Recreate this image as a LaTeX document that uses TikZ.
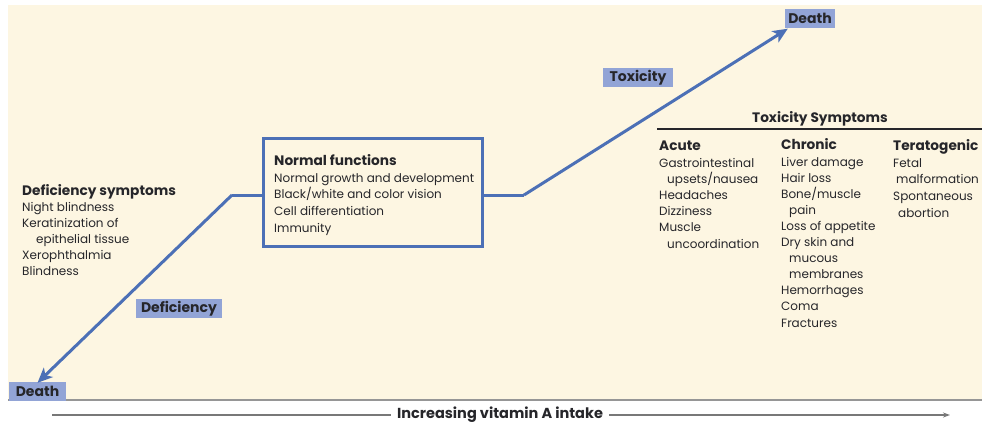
\documentclass[tikz,border=0pt]{standalone}
\usepackage{fontspec}
\setmainfont{Poppins}
\usetikzlibrary{arrows.meta}

\definecolor{cream}{RGB}{253,246,226}
\definecolor{lineblue}{RGB}{76,112,182}
\definecolor{tagblue}{RGB}{146,164,214}
\definecolor{ink}{RGB}{38,38,42}
\definecolor{rulegray}{RGB}{150,150,150}

% bold heading inside a text block
\newcommand{\blockhead}[1]{{\fontsize{13.7}{16}\selectfont\bfseries #1}}

\begin{document}
\begin{tikzpicture}[x=1pt,y=-1pt,
  every node/.style={text=ink},
  body/.style={font=\fontsize{12}{16.2}\selectfont},
  % anchored at the baseline of the block's last line
  block/.style={body, align=left, anchor=base west, inner sep=0pt},
  tag/.style={fill=tagblue, font=\fontsize{14}{15}\selectfont\bfseries,
    inner sep=0pt, minimum height=19pt},
  curve/.style={draw=lineblue, line width=3pt},
  tip/.style={-{Stealth[length=15pt,width=13pt,inset=4pt]}},
  axisline/.style={draw=rulegray!80!black, line width=1.2pt}
]
\useasboundingbox (0,0) rectangle (982,424);

% background panel
\fill[cream] (8,5) rectangle (982,400);
\draw[rulegray, line width=1.5pt] (8,400) -- (982,400);

% labels on the curve
\node[tag, minimum width=57pt] (deathL) at (37.5,391.5) {Death};
\node[tag, minimum width=50pt] (deathR) at (810,18) {Death};
\node[tag, minimum width=70pt] (toxtag) at (638,77.5) {Toxicity};
\node[tag, minimum width=86pt] (deftag) at (179,308.5) {Deficiency};

% normal range box
\node[draw=lineblue, line width=3pt, minimum width=219pt, minimum height=108pt,
  inner sep=0pt] (normal) at (372.5,192) {};
\node[block, font=\fontsize{12}{16.6}\selectfont] (normaltext) at (274,232)
  {\blockhead{Normal functions}\\
   Normal growth and development\\
   Black/white and color vision\\
   Cell differentiation\\
   Immunity};

% intake curve
\coordinate (kneeL) at (232,195);
\coordinate (kneeR) at (524,195);
\draw[curve] (kneeL -| normal.east) -- (kneeR);
\draw[curve] (kneeL) -- (kneeL -| normal.west);
\draw[curve, tip] (kneeL) -- ([yshift=-1pt]deathL.north);
\draw[curve, tip] (kneeR) -- ([xshift=3pt,yshift=-1pt]deathR.south west);

% deficiency symptoms
\node[block, font=\fontsize{12}{16}\selectfont] (defsym) at (22,275)
  {\blockhead{Deficiency symptoms}\\
   Night blindness\\
   Keratinization of\\
   \hspace*{14pt}epithelial tissue\\
   Xerophthalmia\\
   Blindness};

% toxicity symptoms table
\node[font=\fontsize{13.7}{16}\selectfont\bfseries, anchor=base, inner sep=0pt] (toxhead) at (820,122) {Toxicity Symptoms};
\coordinate (ruleL) at (657,129);
\coordinate (ruleR) at (982,129);
\draw[ink, line width=1.3pt] (ruleL) -- (ruleR);

\node[block] (acute) at (659,248)
  {\blockhead{Acute}\\
   Gastrointestinal\\
   \hspace*{8pt}upsets/nausea\\
   Headaches\\
   Dizziness\\
   Muscle\\
   \hspace*{8pt}uncoordination};

\node[block, font=\fontsize{12}{16.1}\selectfont] (chronic) at (781,327)
  {\blockhead{Chronic}\\
   Liver damage\\
   Hair loss\\
   Bone/muscle\\
   \hspace*{8pt}pain\\
   Loss of appetite\\
   Dry skin and\\
   \hspace*{8pt}mucous\\
   \hspace*{8pt}membranes\\
   Hemorrhages\\
   Coma\\
   Fractures};

\node[block, font=\fontsize{12}{16.6}\selectfont] (terato) at (893,217)
  {\blockhead{Teratogenic}\\
   Fetal\\
   \hspace*{3pt}malformation\\
   Spontaneous\\
   \hspace*{5pt}abortion};

% intake axis
\node[font=\fontsize{14.5}{16}\selectfont\bfseries, inner xsep=6pt] (axislabel) at (500,415) {Increasing vitamin A intake};
\coordinate (axisL) at (52,415);
\coordinate (axisR) at (950,415);
\draw[axisline] (axisL) -- (axislabel.west);
\draw[axisline, -{Stealth[length=7pt,width=5pt]}] (axislabel.east) -- (axisR);
\end{tikzpicture}
\end{document}
